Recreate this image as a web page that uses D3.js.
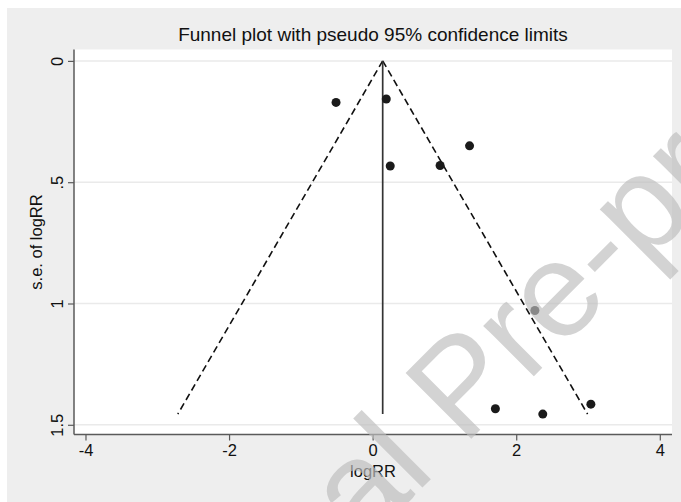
<!DOCTYPE html>
<html>
<head>
<meta charset="utf-8">
<script src="https://cdn.jsdelivr.net/npm/d3@7"></script>
<style>
  body { margin: 0; background: #fff; }
  text { font-family: "Liberation Sans", Arial, sans-serif; }
</style>
</head>
<body>
<div id="graph"></div>
<script>
// study estimates
var logRR = [-0.51, 0.19, 0.245, 0.94, 1.35, 2.26, 1.71, 2.37, 3.04];
var seLogRR = [0.171, 0.157, 0.433, 0.431, 0.35, 1.029, 1.434, 1.456, 1.415];
var pooled = 0.14;
var xTicks = [-4, -2, 0, 2, 4];
var yTicks = [0, 0.5, 1, 1.5];
var yTickLabels = ["0", ".5", "1", "1.5"];

var points = logRR.map(function(d, i) { return {x: d, se: seLogRR[i]}; });
var seMax = d3.max(seLogRR);

var width = 681, height = 502;
var plotLeft = 74, plotRight = 672, plotTop = 49.5, plotBottom = 434.5;

var svg = d3.select("#graph").append("svg")
	.attr("width", width)
	.attr("height", height);

// graph region
svg.append("rect")
	.attr("x", 7).attr("y", 8)
	.attr("width", width - 7).attr("height", height - 8)
	.attr("fill", "#eeeeee");

svg.append("rect")
	.attr("x", plotLeft).attr("y", plotTop)
	.attr("width", plotRight - plotLeft).attr("height", plotBottom - plotTop)
	.attr("fill", "#ffffff");

var x = d3.scaleLinear().domain([-4.16, 4.17]).range([plotLeft, plotRight]);
var y = d3.scaleLinear().domain([-0.047, 1.54]).range([plotTop, plotBottom]);

// grid lines
svg.selectAll(".grid")
	.data(yTicks)
	.enter()
		.append("line")
		.attr("class", "grid")
		.attr("x1", plotLeft).attr("x2", plotRight)
		.attr("y1", function(d) { return y(d); })
		.attr("y2", function(d) { return y(d); })
		.attr("stroke", "#eaeaea")
		.attr("stroke-width", 1.5);

// axes
var xAxis = svg.append("g")
	.attr("transform", "translate(0," + plotBottom + ")")
	.call(d3.axisBottom(x).tickValues(xTicks).tickSize(6).tickPadding(4)
		.tickFormat(function(d) { return d; }));

var yAxis = svg.append("g")
	.attr("transform", "translate(" + plotLeft + ",0)")
	.call(d3.axisLeft(y).tickValues(yTicks).tickSize(6)
		.tickFormat(function(d, i) { return yTickLabels[i]; }));

[xAxis, yAxis].forEach(function(g) {
	g.select(".domain").attr("stroke", "#5a5a5a").attr("stroke-width", 1.5);
	g.selectAll(".tick line").attr("stroke", "#5a5a5a").attr("stroke-width", 1.2);
	g.selectAll("text")
		.attr("fill", "#111")
		.style("font-size", "16.5px")
		.style("font-family", "'Liberation Sans', Arial, sans-serif");
});
xAxis.select(".domain").attr("d", "M" + plotLeft + ",0H" + plotRight);
yAxis.select(".domain").attr("d", "M0," + plotTop + "V" + plotBottom);

yAxis.selectAll(".tick text")
	.attr("x", 0).attr("dy", 0)
	.attr("text-anchor", "middle")
	.attr("transform", "translate(-11,0) rotate(-90)");

// funnel limits
var funnel = [
	[[pooled, 0], [pooled - 1.96 * seMax, seMax]],
	[[pooled, 0], [pooled + 1.96 * seMax, seMax]]
];
svg.selectAll(".limit")
	.data(funnel)
	.enter()
		.append("line")
		.attr("class", "limit")
		.attr("x1", function(d) { return x(d[0][0]); })
		.attr("y1", function(d) { return y(d[0][1]); })
		.attr("x2", function(d) { return x(d[1][0]); })
		.attr("y2", function(d) { return y(d[1][1]); })
		.attr("stroke", "#111")
		.attr("stroke-width", 1.6)
		.attr("stroke-dasharray", "7,4");

svg.append("line")
	.attr("x1", x(pooled)).attr("x2", x(pooled))
	.attr("y1", y(0)).attr("y2", y(seMax))
	.attr("stroke", "#333")
	.attr("stroke-width", 1.7);

svg.selectAll("circle")
	.data(points)
	.enter()
		.append("circle")
		.attr("cx", function(d) { return x(d.x); })
		.attr("cy", function(d) { return y(d.se); })
		.attr("r", 4.5)
		.attr("fill", "#1a1a1a");

// titles
svg.append("text")
	.attr("x", (plotLeft + plotRight) / 2).attr("y", 41)
	.attr("text-anchor", "middle")
	.style("font-size", "19px")
	.attr("fill", "#111")
	.text("Funnel plot with pseudo 95% confidence limits");

svg.append("text")
	.attr("x", (plotLeft + plotRight) / 2).attr("y", 477)
	.attr("text-anchor", "middle")
	.style("font-size", "16.5px")
	.attr("fill", "#111")
	.text("logRR");

svg.append("text")
	.attr("transform", "translate(42," + (plotTop + plotBottom) / 2 + ") rotate(-90)")
	.attr("text-anchor", "middle")
	.style("font-size", "16.5px")
	.attr("fill", "#111")
	.text("s.e. of logRR");

// watermark
svg.append("text")
	.attr("transform", "translate(124,786) rotate(-45)")
	.style("font-size", "135px")
	.attr("fill", "rgb(190,190,190)")
	.attr("opacity", 0.675)
	.text("Journal Pre-proof");
</script>
</body>
</html>
